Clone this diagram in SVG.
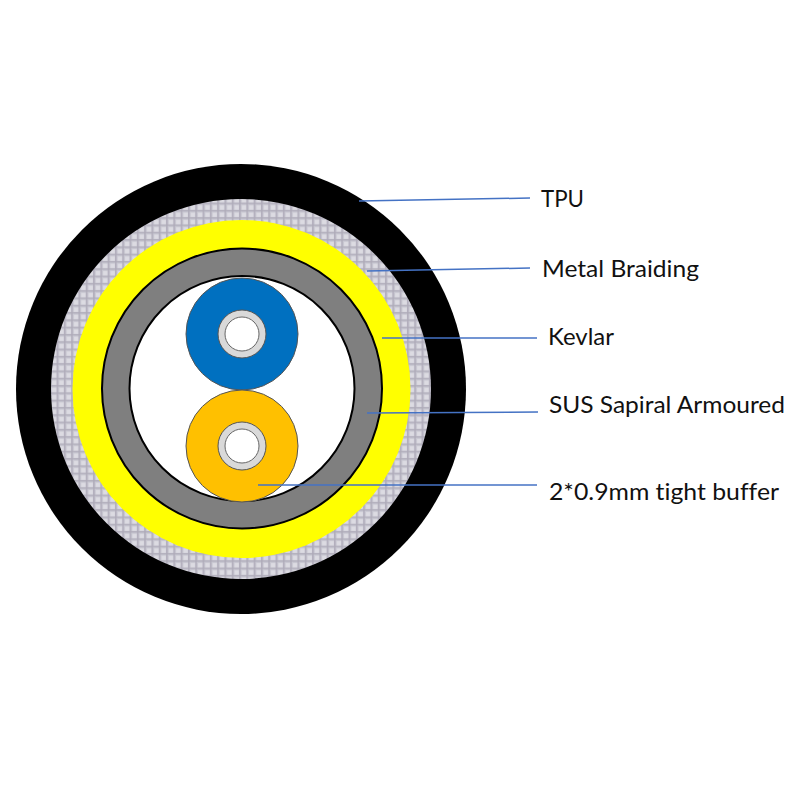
<svg xmlns="http://www.w3.org/2000/svg" width="800" height="800" viewBox="0 0 800 800">
<style>
.lbl{font-family:"Lato","Open Sans","Liberation Sans",sans-serif;font-size:24px;fill:#111;font-variant-ligatures:none}
.lead{stroke:#4472c4;stroke-width:1.5;fill:none}
.fibre{stroke:#555;stroke-width:1}
.ring{fill:#d9d9d9;stroke:#555;stroke-width:1}
.core{fill:#fff;stroke:#666;stroke-width:1}
</style>
<defs>
<pattern id="braid" width="7.300" height="7.300" patternUnits="userSpaceOnUse">
<rect width="7.300" height="7.300" fill="#c9c8d2"/>
<rect x="1" y="1" width="4.300" height="4.300" fill="#dcdbe2"/>
<path d="M0 6.300H7.300M6.300 0V7.300" stroke="#aeaab8" stroke-width="1.300"/>
</pattern>
</defs>
<rect width="800" height="800" fill="#fff"/>
<g id="tpu"><circle cx="241" cy="389" r="225" fill="#000"/></g>
<g id="metal-braiding"><circle cx="241" cy="389" r="190" fill="url(#braid)"/></g>
<g id="kevlar"><circle cx="241.500" cy="389" r="169" fill="#ff0"/></g>
<g id="armour"><circle cx="242" cy="388.500" r="126.250" fill="none" stroke="#7f7f7f" stroke-width="28"/><circle cx="242" cy="388.500" r="140" fill="none" stroke="#000" stroke-width="2"/><circle cx="242" cy="388.500" r="112.500" fill="#fff" stroke="#000" stroke-width="2"/></g>
<g id="buffer-blue"><circle class="fibre" cx="242" cy="334" r="56" fill="#0070c0"/><circle class="ring" cx="242" cy="334" r="24"/><circle class="core" cx="242" cy="334" r="17"/></g>
<g id="buffer-orange"><circle class="fibre" cx="242" cy="446" r="56" fill="#ffc000"/><circle class="ring" cx="242" cy="446" r="24"/><circle class="core" cx="242" cy="446" r="17"/></g>
<g id="connectors">
<path class="lead" d="M359 201L530 198"/>
<path class="lead" d="M367 271L530 268"/>
<path class="lead" d="M382 338L537 338"/>
<path class="lead" d="M367 413L538 412"/>
<path class="lead" d="M258 485L537 485"/>
</g>
<g id="label-tpu"><text class="lbl" x="541" y="207" textLength="43" lengthAdjust="spacingAndGlyphs">TPU</text></g>
<g id="label-braiding"><text class="lbl" x="542" y="277" textLength="157" lengthAdjust="spacingAndGlyphs">Metal Braiding</text></g>
<g id="label-kevlar"><text class="lbl" x="548" y="345" textLength="66" lengthAdjust="spacingAndGlyphs">Kevlar</text></g>
<g id="label-sus"><text class="lbl" x="549" y="413" textLength="236" lengthAdjust="spacingAndGlyphs">SUS Sapiral Armoured</text></g>
<g id="label-buffer"><text class="lbl" x="549" y="500" textLength="230" lengthAdjust="spacingAndGlyphs">2*0.9mm tight buffer</text></g>
</svg>
